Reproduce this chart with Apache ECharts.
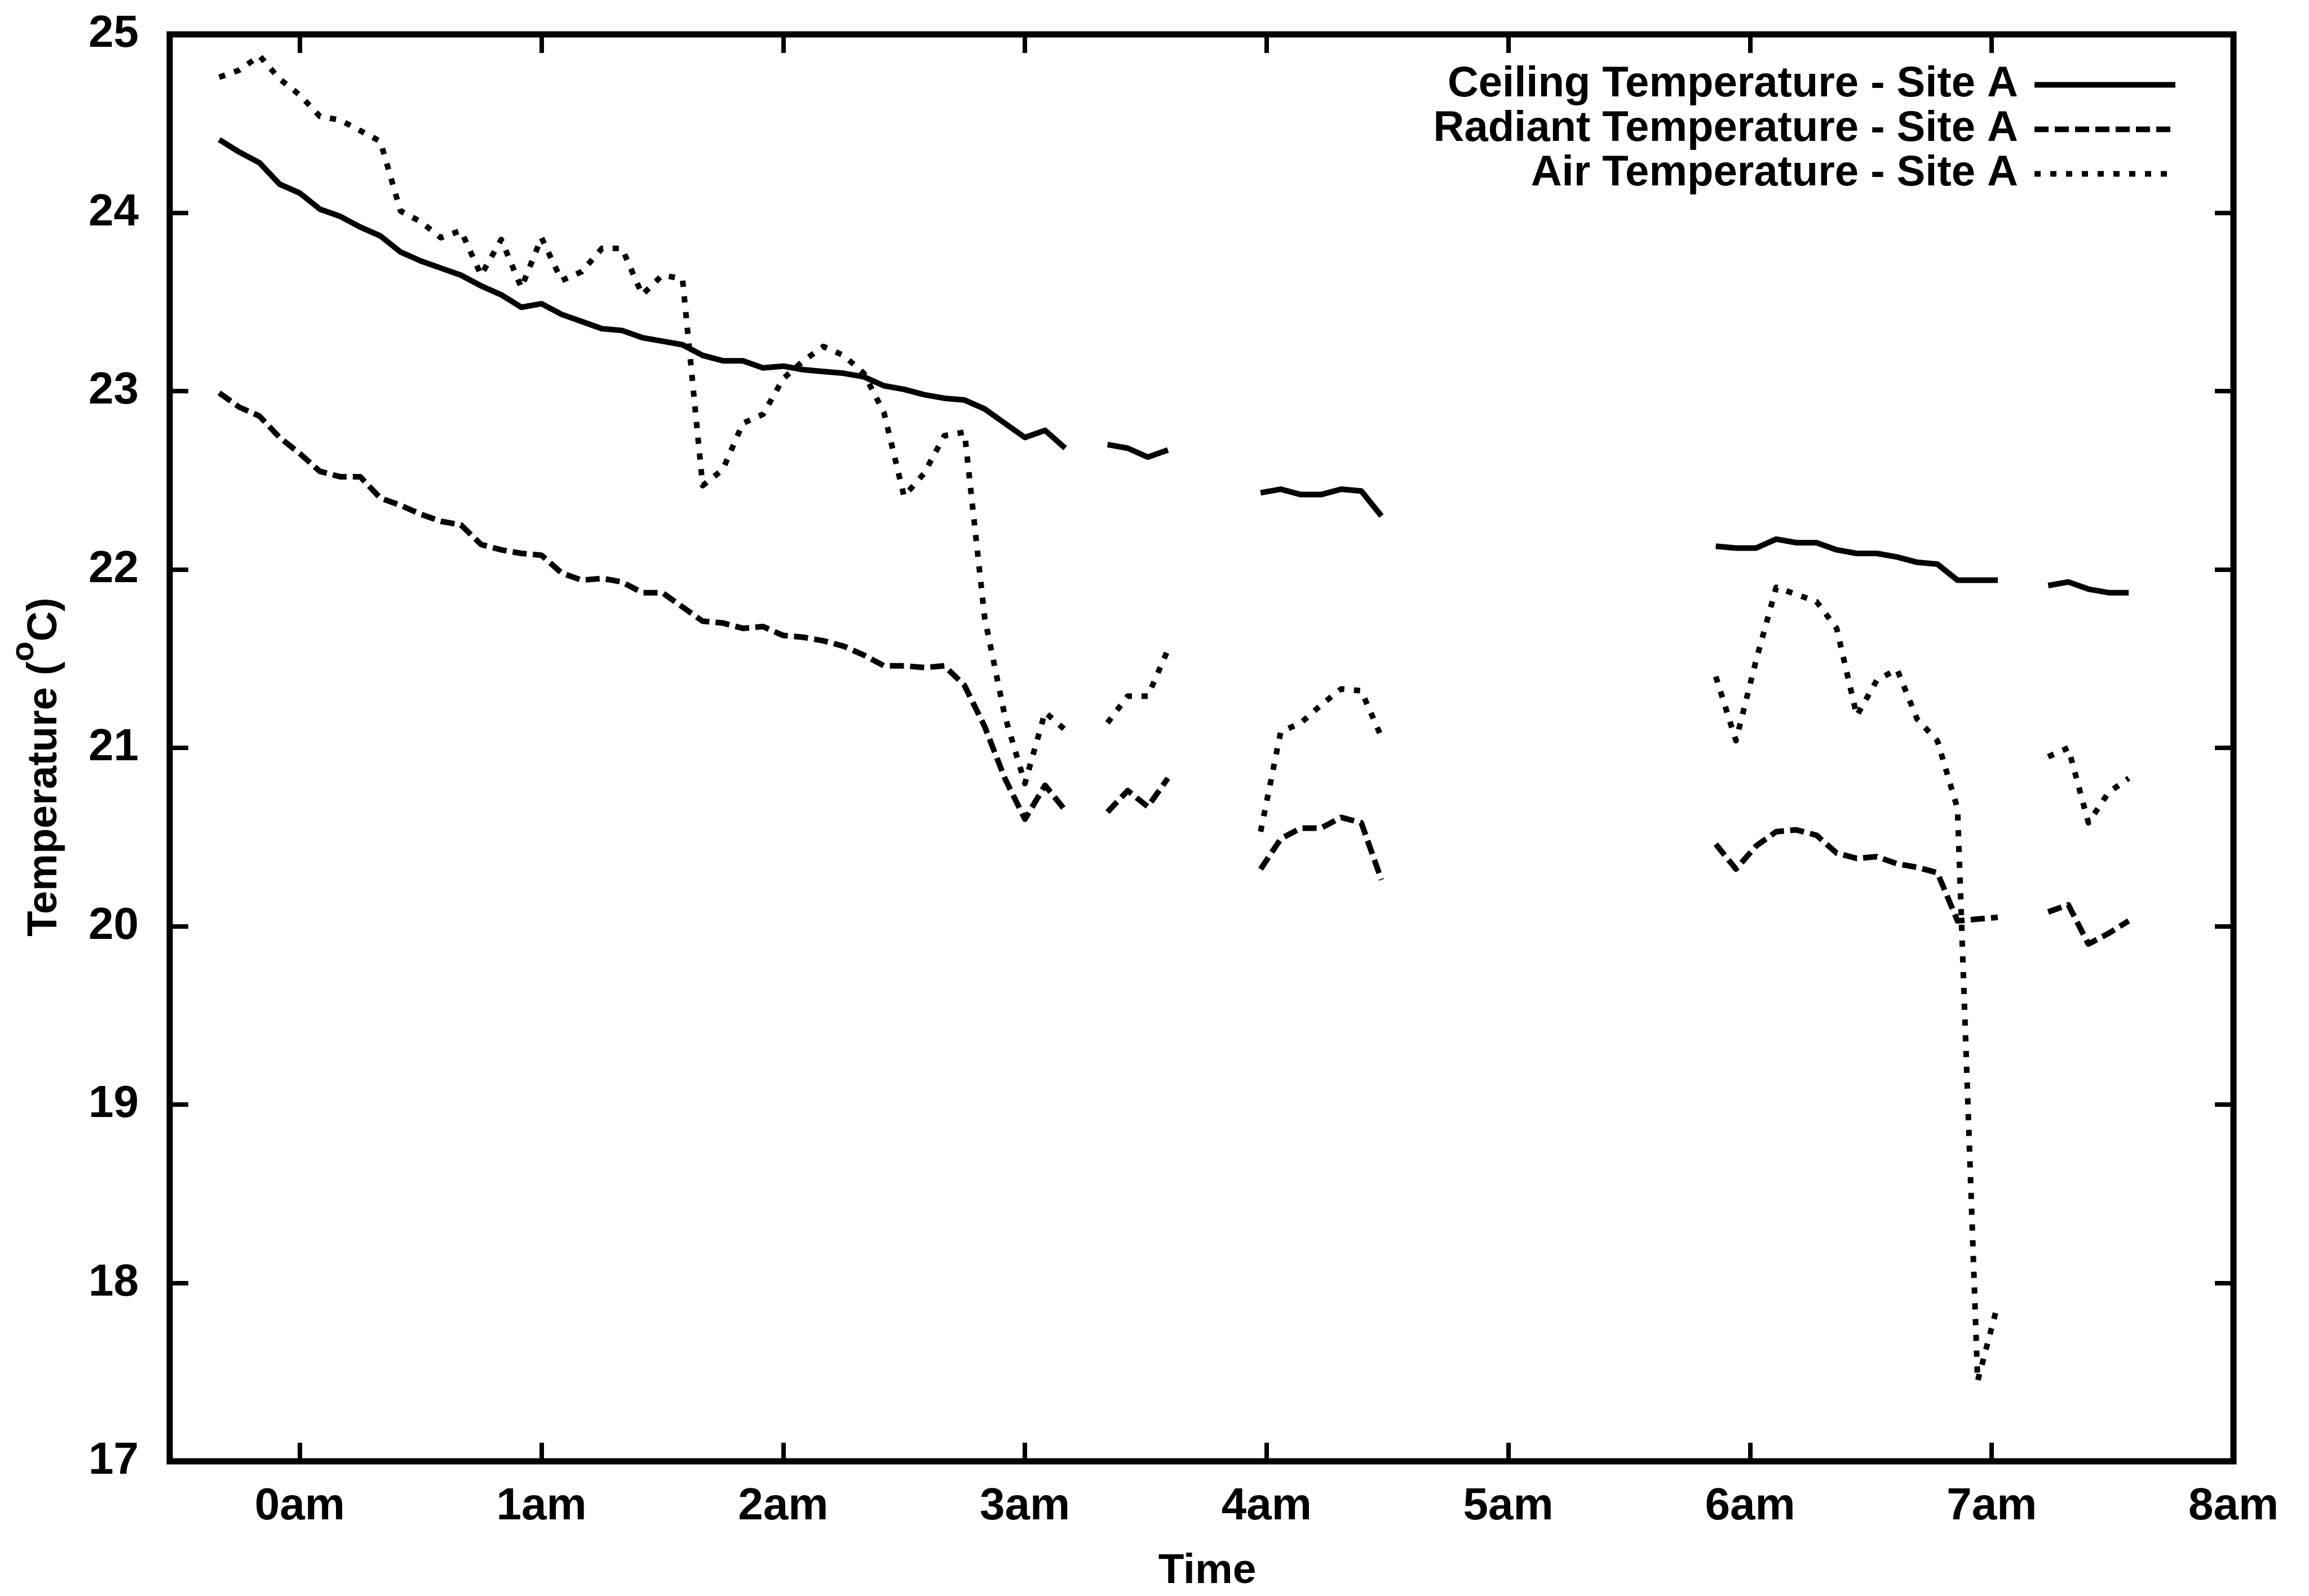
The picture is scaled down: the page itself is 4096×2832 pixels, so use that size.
<!DOCTYPE html>
<html>
<head>
<meta charset="utf-8">
<script src="https://cdn.jsdelivr.net/npm/echarts@6/dist/echarts.min.js"></script>
<style>
  html, body { margin: 0; padding: 0; background: #ffffff; }
  #chart { width: 4096px; height: 2832px; }
</style>
</head>
<body>
<div id="chart"></div>
<script>
// Logging runs: sample times in minutes after midnight
const runMinutes = [
  [-20, -15, -10, -5, 0, 5, 10, 15, 20, 25, 30, 35, 40, 45, 50, 55, 60, 65, 70, 75, 80,
   85, 90, 95, 100, 105, 110, 115, 120, 125, 130, 135, 140, 145, 150, 155, 160, 165, 170,
   175, 180, 185, 190],
  [200.5, 205.5, 210.5, 215.5],
  [238.5, 243.5, 248.5, 253.5, 258.5, 263.5, 268.5],
  [351.5, 356.5, 361.5, 366.5, 371.5, 376.5, 381.5, 386.5, 391.5, 396.5, 401.5, 406.5, 411.5,
   416.5, 421.5],
  [434, 439, 444, 449, 454]
];

// Ceiling temperature, Site A (°C), one list per run
const ceilingTemp = [
  [24.41, 24.34, 24.28, 24.16, 24.11, 24.02, 23.98, 23.92, 23.87, 23.78, 23.73, 23.69, 23.65,
   23.59, 23.54, 23.47, 23.49, 23.43, 23.39, 23.35, 23.34, 23.30, 23.28, 23.26, 23.20, 23.17,
   23.17, 23.13, 23.14, 23.12, 23.11, 23.10, 23.08, 23.03, 23.01, 22.98, 22.96, 22.95, 22.90,
   22.82, 22.74, 22.78, 22.68],
  [22.70, 22.68, 22.63, 22.67],
  [22.43, 22.45, 22.42, 22.42, 22.45, 22.44, 22.30],
  [22.13, 22.12, 22.12, 22.17, 22.15, 22.15, 22.11, 22.09, 22.09, 22.07, 22.04, 22.03, 21.94,
   21.94, 21.94],
  [21.91, 21.93, 21.89, 21.87, 21.87]
];

// Radiant temperature, Site A (°C)
const radiantTemp = [
  [22.99, 22.91, 22.86, 22.74, 22.65, 22.55, 22.52, 22.52, 22.40, 22.36, 22.31, 22.27, 22.25,
   22.14, 22.11, 22.09, 22.08, 21.98, 21.94, 21.95, 21.93, 21.87, 21.87, 21.79, 21.71, 21.70,
   21.67, 21.68, 21.63, 21.62, 21.60, 21.57, 21.52, 21.46, 21.46, 21.45, 21.46, 21.35, 21.12,
   20.83, 20.60, 20.79, 20.65],
  [20.64, 20.76, 20.67, 20.83],
  [20.32, 20.49, 20.55, 20.55, 20.61, 20.58, 20.26],
  [20.46, 20.32, 20.45, 20.53, 20.54, 20.51, 20.41, 20.38, 20.39, 20.35, 20.33, 20.30, 20.03,
   20.04, 20.05],
  [20.08, 20.12, 19.90, 19.96, 20.03]
];

// Air temperature, Site A (°C)
const airTemp = [
  [24.76, 24.80, 24.88, 24.75, 24.66, 24.54, 24.52, 24.46, 24.40, 24.01, 23.95, 23.86, 23.90,
   23.65, 23.85, 23.58, 23.86, 23.62, 23.67, 23.80, 23.80, 23.54, 23.65, 23.63, 22.47, 22.56,
   22.82, 22.87, 23.07, 23.17, 23.25, 23.20, 23.10, 22.88, 22.41, 22.54, 22.75, 22.77, 21.73,
   21.18, 20.80, 21.20, 21.10],
  [21.14, 21.29, 21.29, 21.55],
  [20.53, 21.09, 21.14, 21.24, 21.33, 21.32, 21.06],
  [21.40, 21.04, 21.49, 21.90, 21.86, 21.82, 21.67, 21.18, 21.38, 21.44, 21.16, 21.04, 20.66,
   17.45, 17.88],
  [20.95, 21.00, 20.58, 20.75, 20.83]
];

const seriesNames = [
  'Ceiling Temperature - Site A',
  'Radiant Temperature - Site A',
  'Air Temperature - Site A'
];

// Hour marks on the time axis and their labels
const hourLabels = ['0am', '1am', '2am', '3am', '4am', '5am', '6am', '7am', '8am'];

// Plot frame and time range
const W = 4096;
const plotLeft = 301, plotRight = 134, plotTop = 61, plotBottom = 239;
const timeMin = -32.3, timeMax = 480;
const plotWidth = W - plotLeft - plotRight;
// The hour scale starts at 0am, so it gets its own frame whose left edge sits at 0am
const hourFrameLeft = plotLeft + (0 - timeMin) / (timeMax - timeMin) * plotWidth;

const font = "'Liberation Sans', Arial, Helvetica, sans-serif";
const lineW = 10;

// Join the runs into one point list; a '-' value breaks the line between runs
function buildLine(runs) {
  const pts = [];
  runs.forEach((vals, r) => {
    if (r > 0) pts.push([runMinutes[r][0], '-']);
    vals.forEach((v, i) => pts.push([runMinutes[r][i], v]));
  });
  return pts;
}

const tickStyle = { show: true, inside: true, length: 33, lineStyle: { color: '#000', width: 8 } };
const noLine = { show: false, onZero: false };

const chart = echarts.init(document.getElementById('chart'), null, { renderer: 'canvas' });

chart.setOption({
  animation: false,
  backgroundColor: '#ffffff',
  grid: [
    {
      left: plotLeft, right: plotRight, top: plotTop, bottom: plotBottom,
      show: true, borderWidth: 11, borderColor: '#000', backgroundColor: 'transparent',
      containLabel: false, outerBoundsMode: 'none'
    },
    {
      left: hourFrameLeft, right: plotRight, top: plotTop, bottom: plotBottom,
      show: false, containLabel: false, outerBoundsMode: 'none'
    }
  ],
  legend: {
    orient: 'vertical',
    align: 'right',
    right: 232,
    top: 111,
    padding: 0,
    itemGap: 0,
    itemWidth: 250,
    itemHeight: 20,
    selectedMode: false,
    data: seriesNames,
    lineStyle: { width: lineW },
    itemStyle: { color: 'rgba(0,0,0,0)', borderColor: 'rgba(0,0,0,0)', borderWidth: 0 },
    formatter: name => '{n|' + name + '}',
    textStyle: {
      color: '#000', fontFamily: font, fontWeight: 'bold', fontSize: 76, lineHeight: 79,
      rich: {
        n: { color: '#000', fontFamily: font, fontWeight: 'bold', fontSize: 76, lineHeight: 79,
             padding: [0, 24, 0, 0] }
      }
    }
  },
  xAxis: [
    {
      // time axis carrying the data
      gridIndex: 0, type: 'value', position: 'bottom', min: timeMin, max: timeMax,
      axisLine: noLine,
      splitLine: { show: false },
      axisTick: { show: false },
      axisLabel: { show: false },
      name: 'Time',
      nameLocation: 'middle',
      nameGap: 158,
      nameTextStyle: {
        color: '#000', fontFamily: font, fontWeight: 'bold', fontSize: 75,
        padding: [0, 0, 0, 20]
      }
    },
    {
      // hour ticks and labels along the bottom
      gridIndex: 1, type: 'value', position: 'bottom', min: 0, max: timeMax, interval: 60,
      axisLine: noLine,
      splitLine: { show: false },
      axisTick: tickStyle,
      axisLabel: {
        formatter: v => hourLabels[Math.round(v / 60)],
        margin: 41, color: '#000', fontFamily: font, fontWeight: 'bold', fontSize: 80,
        showMinLabel: true, showMaxLabel: true
      }
    },
    {
      // hour ticks along the top
      gridIndex: 1, type: 'value', position: 'top', min: 0, max: timeMax, interval: 60,
      axisLine: noLine,
      splitLine: { show: false },
      axisTick: tickStyle,
      axisLabel: { show: false }
    }
  ],
  yAxis: [
    {
      gridIndex: 0, type: 'value', position: 'left', min: 17, max: 25, interval: 1,
      axisLine: noLine,
      splitLine: { show: false },
      axisTick: tickStyle,
      axisLabel: { margin: 55, color: '#000', fontFamily: font, fontWeight: 'bold', fontSize: 80 },
      name: '{t|Temperature (}{s|o}{t|C)}',
      nameLocation: 'middle',
      nameRotate: 90,
      nameGap: 184,
      nameTextStyle: {
        padding: [0, 68, 0, 0],
        rich: {
          t: { color: '#000', fontFamily: font, fontWeight: 'bold', fontSize: 74,
               lineHeight: 74, verticalAlign: 'bottom' },
          s: { color: '#000', fontFamily: font, fontWeight: 'bold', fontSize: 58,
               lineHeight: 103, verticalAlign: 'top' }
        }
      }
    },
    {
      gridIndex: 0, type: 'value', position: 'right', min: 17, max: 25, interval: 1,
      axisLine: noLine,
      splitLine: { show: false },
      axisTick: tickStyle,
      axisLabel: { show: false }
    },
    {
      gridIndex: 1, type: 'value', min: 17, max: 25, show: false
    }
  ],
  series: [
    {
      name: seriesNames[0], type: 'line', data: buildLine(ceilingTemp),
      xAxisIndex: 0, yAxisIndex: 0,
      symbol: 'none', showSymbol: false, connectNulls: false,
      lineStyle: { color: '#000', width: lineW, type: 'solid', join: 'round' },
      itemStyle: { color: '#000' }
    },
    {
      name: seriesNames[1], type: 'line', data: buildLine(radiantTemp),
      xAxisIndex: 0, yAxisIndex: 0,
      symbol: 'none', showSymbol: false, connectNulls: false,
      lineStyle: { color: '#000', width: lineW, type: [25, 11], cap: 'butt', join: 'round' },
      itemStyle: { color: '#000' }
    },
    {
      name: seriesNames[2], type: 'line', data: buildLine(airTemp),
      xAxisIndex: 0, yAxisIndex: 0,
      symbol: 'none', showSymbol: false, connectNulls: false,
      lineStyle: { color: '#000', width: lineW, type: [11, 17], cap: 'butt', join: 'round' },
      itemStyle: { color: '#000' }
    }
  ]
});
</script>
</body>
</html>
